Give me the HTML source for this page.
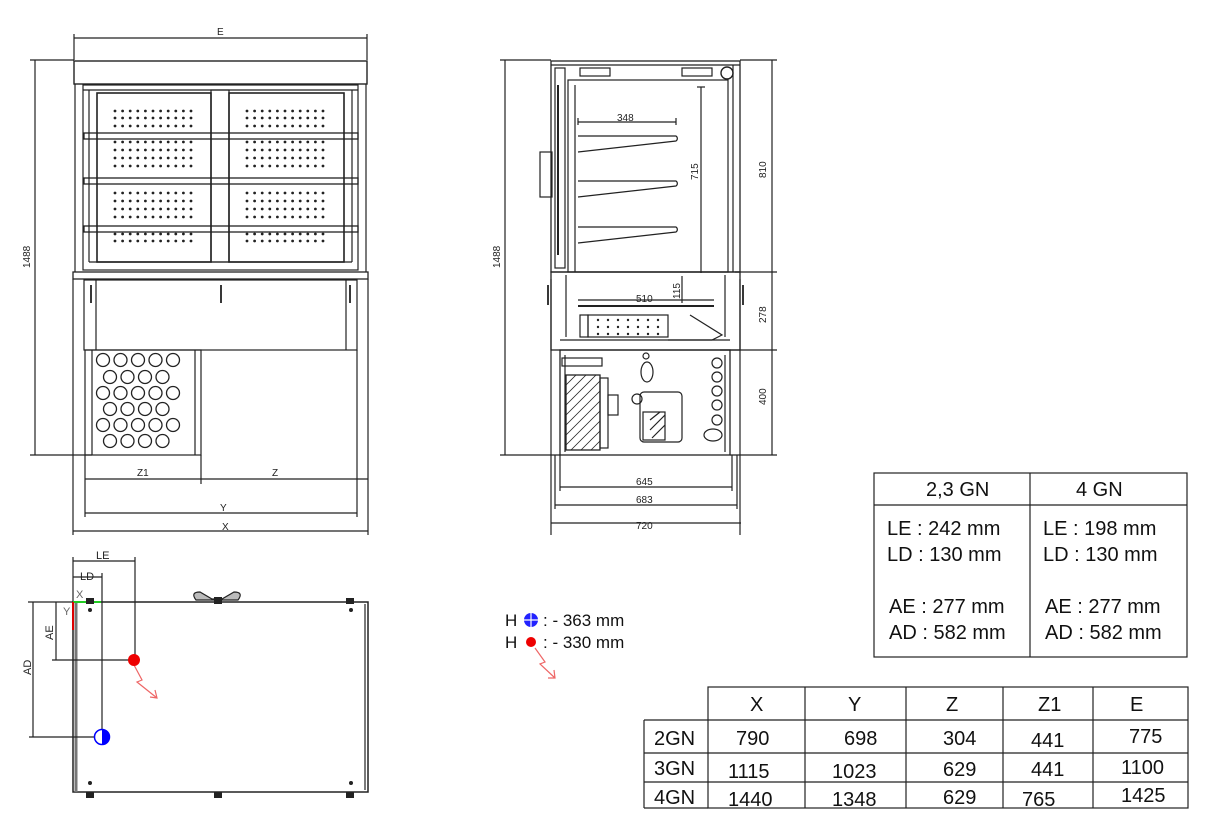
<!DOCTYPE html>
<html><head><meta charset="utf-8"><style>
html,body{margin:0;padding:0;background:#fff;}
svg{display:block;font-family:"Liberation Sans",sans-serif;}
</style></head><body>
<svg id="s" width="1213" height="840" viewBox="0 0 1213 840" xmlns="http://www.w3.org/2000/svg">
<g stroke="#222" stroke-width="1.2" fill="none">
<!-- FRONT VIEW -->
<line x1="74" y1="38" x2="367" y2="38"/><line x1="74" y1="34" x2="74" y2="60"/><line x1="367" y1="34" x2="367" y2="60"/>
<line x1="35" y1="60" x2="35" y2="455"/><line x1="30" y1="60" x2="74" y2="60"/><line x1="30" y1="455" x2="92" y2="455"/>
<rect x="74" y="61" width="293" height="23" stroke-width="1.4"/>
<line x1="75" y1="84" x2="75" y2="272"/><line x1="366" y1="84" x2="366" y2="272"/>
<rect x="83" y="85" width="275" height="185"/>
<line x1="83" y1="90" x2="358" y2="90"/>
<rect x="97" y="93" width="114" height="169" stroke-width="1.6"/>
<rect x="229" y="93" width="115" height="169" stroke-width="1.6"/>
<rect x="211" y="90" width="18" height="172"/>
<line x1="89" y1="90" x2="89" y2="262"/><line x1="352" y1="90" x2="352" y2="262"/>
<rect x="84" y="133" width="274" height="6" stroke-width="1.3"/>
<rect x="84" y="178" width="274" height="6" stroke-width="1.3"/>
<rect x="84" y="226" width="274" height="6" stroke-width="1.3"/>
<line x1="89" y1="262" x2="352" y2="262"/>
<rect x="73" y="272" width="295" height="7" stroke-width="1.3"/>
<line x1="73" y1="279" x2="73" y2="535"/><line x1="368" y1="279" x2="368" y2="535"/>
<rect x="84" y="280" width="273" height="70"/>
<line x1="96" y1="280" x2="96" y2="350"/><line x1="346" y1="280" x2="346" y2="350"/>
<line x1="357" y1="350" x2="357" y2="517"/>
<rect x="85" y="350" width="116" height="105"/>
<line x1="92" y1="350" x2="92" y2="455"/><line x1="195" y1="350" x2="195" y2="455"/>
<line x1="85" y1="455" x2="85" y2="517"/>
<line x1="201" y1="455" x2="201" y2="484"/>
<line x1="85" y1="479" x2="368" y2="479"/>
<line x1="85" y1="513" x2="357" y2="513"/>
<line x1="73" y1="531" x2="368" y2="531"/>
<g stroke-width="1.8"><line x1="91" y1="285" x2="91" y2="303"/><line x1="221" y1="285" x2="221" y2="303"/><line x1="350" y1="285" x2="350" y2="303"/></g>
<g id="grille"></g>
<!-- SIDE VIEW -->
<line x1="505" y1="60" x2="505" y2="455"/><line x1="500" y1="60" x2="551" y2="60"/><line x1="500" y1="455" x2="560" y2="455"/>
<line x1="772" y1="60" x2="772" y2="455"/><line x1="740" y1="60" x2="777" y2="60"/><line x1="735" y1="272" x2="777" y2="272"/><line x1="720" y1="350" x2="777" y2="350"/><line x1="730" y1="455" x2="777" y2="455"/>
<rect x="551" y="61" width="189" height="211" stroke-width="1.3"/>
<line x1="551" y1="65" x2="740" y2="65"/>
<rect x="555" y="68" width="10" height="200"/>
<line x1="558" y1="85" x2="558" y2="255" stroke-width="2"/>
<rect x="540" y="152" width="12" height="45"/>
<rect x="568" y="80" width="160" height="192"/>
<line x1="575" y1="85" x2="575" y2="272"/>
<line x1="733" y1="65" x2="733" y2="272"/>
<rect x="580" y="68" width="30" height="8"/><rect x="682" y="68" width="30" height="8"/>
<circle cx="727" cy="73" r="6" stroke-width="1.4"/>
<line x1="578" y1="122" x2="676" y2="122"/><line x1="578" y1="118" x2="578" y2="125"/><line x1="676" y1="118" x2="676" y2="125"/>
<path d="M578 136 H676 a3 3 0 0 1 0 5 L578 152"/>
<path d="M578 181 H676 a3 3 0 0 1 0 5 L578 197"/>
<path d="M578 227 H676 a3 3 0 0 1 0 5 L578 243"/>
<line x1="701" y1="87" x2="701" y2="273"/><line x1="697" y1="87" x2="705" y2="87"/>
<line x1="682" y1="276" x2="682" y2="303"/>
<rect x="551" y="272" width="189" height="78" stroke-width="1.3"/>
<line x1="566" y1="275" x2="566" y2="337"/><line x1="725" y1="275" x2="725" y2="337"/>
<line x1="578" y1="306" x2="714" y2="306" stroke-width="2"/>
<line x1="578" y1="300" x2="714" y2="300"/>
<rect x="588" y="315" width="80" height="22"/>
<rect x="580" y="315" width="8" height="22"/>
<path d="M690 315 L722 335 L712 340 L668 340"/>
<line x1="560" y1="340" x2="730" y2="340"/>
<line x1="551" y1="279" x2="551" y2="535"/><line x1="740" y1="279" x2="740" y2="535"/>
<rect x="560" y="350" width="170" height="105" stroke-width="1.3"/>
<line x1="565" y1="355" x2="565" y2="452"/><line x1="725" y1="355" x2="725" y2="452"/>
<rect x="562" y="358" width="40" height="8"/>
<rect x="566" y="375" width="34" height="75" stroke-width="1.3"/>
<g stroke-width="0.8"><path d="M566 385 L576 375 M566 395 L586 375 M566 405 L596 375 M566 415 L600 381 M566 425 L600 391 M566 435 L600 401 M566 445 L600 411 M571 450 L600 421 M581 450 L600 431 M591 450 L600 441"/></g>
<rect x="600" y="378" width="8" height="70"/><rect x="608" y="395" width="10" height="20"/>
<rect x="640" y="392" width="42" height="50" rx="4"/>
<rect x="643" y="412" width="22" height="28"/><path d="M650 420 L660 412 M650 430 L665 415 M652 438 L665 425"/>
<circle cx="637" cy="399" r="5"/>
<ellipse cx="647" cy="372" rx="6" ry="10"/><circle cx="646" cy="356" r="3"/>
<circle cx="717" cy="363" r="5"/><circle cx="717" cy="377" r="5"/><circle cx="717" cy="391" r="5"/><circle cx="717" cy="405" r="5"/><circle cx="717" cy="420" r="5"/><ellipse cx="713" cy="435" rx="9" ry="6"/>
<line x1="560" y1="487" x2="732" y2="487"/><line x1="560" y1="455" x2="560" y2="491"/><line x1="732" y1="455" x2="732" y2="491"/>
<line x1="555" y1="505" x2="737" y2="505"/><line x1="555" y1="455" x2="555" y2="509"/><line x1="737" y1="455" x2="737" y2="509"/>
<line x1="551" y1="523" x2="741" y2="523"/>
<g stroke-width="1.8"><line x1="548" y1="285" x2="548" y2="305"/><line x1="743" y1="285" x2="743" y2="305"/></g>
<!-- PLAN VIEW -->
<rect x="73" y="602" width="295" height="190" stroke-width="1.5"/>
<line x1="76" y1="602" x2="76" y2="792" stroke="#777" stroke-width="3"/>
<line x1="365" y1="604" x2="365" y2="790"/>
<line x1="28" y1="602" x2="73" y2="602"/>
<line x1="73" y1="557" x2="73" y2="602"/><line x1="135" y1="557" x2="135" y2="660"/><line x1="102" y1="573" x2="102" y2="737"/>
<line x1="73" y1="561" x2="135" y2="561"/><line x1="73" y1="577" x2="102" y2="577"/>
<line x1="56" y1="602" x2="56" y2="660"/><line x1="52" y1="660" x2="134" y2="660"/>
<line x1="33" y1="602" x2="33" y2="737"/><line x1="29" y1="737" x2="102" y2="737"/>
<path d="M196 600 q-6 -8 4 -8 l12 7 h10 l12 -7 q10 0 4 8 z" fill="#bbb"/>
<line x1="73" y1="602" x2="101" y2="602" stroke="#2c2" stroke-width="2"/>
<line x1="73" y1="602" x2="73" y2="630" stroke="#d00" stroke-width="2"/>
<path d="M134 665 L142 680 L137 682 L157 698 M150 697 L157 698 L155 690" stroke="#e66"/>
<path d="M535 648 L545 662 L540 664 L555 678 M548 678 L555 678 L554 670" stroke="#e66"/>
<!-- TABLES -->
<rect x="874" y="473" width="313" height="184"/><line x1="874" y1="505" x2="1187" y2="505"/><line x1="1030" y1="473" x2="1030" y2="657"/>
<rect x="708" y="687" width="480" height="121"/>
<line x1="644" y1="720" x2="1188" y2="720"/><line x1="644" y1="753" x2="1188" y2="753"/><line x1="644" y1="782" x2="1188" y2="782"/>
<line x1="644" y1="720" x2="644" y2="808"/><line x1="644" y1="808" x2="708" y2="808"/>
<line x1="805" y1="687" x2="805" y2="808"/><line x1="906" y1="687" x2="906" y2="808"/><line x1="1003" y1="687" x2="1003" y2="808"/><line x1="1093" y1="687" x2="1093" y2="808"/>
</g>
<g id="dots" fill="#222"></g>
<g fill="#222">
<rect x="86" y="598" width="8" height="6"/><rect x="214" y="597" width="8" height="7"/><rect x="346" y="598" width="8" height="6"/>
<rect x="86" y="792" width="8" height="6"/><rect x="214" y="792" width="8" height="6"/><rect x="346" y="792" width="8" height="6"/>
<circle cx="90" cy="610" r="2"/><circle cx="351" cy="610" r="2"/><circle cx="90" cy="783" r="2"/><circle cx="351" cy="783" r="2"/>
<circle cx="134" cy="660" r="6" fill="#e00"/>
<circle cx="102" cy="737" r="7.5" fill="#fff" stroke="#00f" stroke-width="1.5"/>
<path d="M102 729.5 A7.5 7.5 0 0 1 102 744.5 Z" fill="#00f"/>
<circle cx="531" cy="620" r="7" fill="#22f"/><path d="M524 620 H538 M531 613 V627" stroke="#fff" stroke-width="1.2"/>
<circle cx="531" cy="642" r="5" fill="#e00"/>
</g>
<g fill="#222" font-size="10">
<text x="217" y="35">E</text>
<text x="30" y="268" transform="rotate(-90 30 268)">1488</text>
<text x="137" y="476">Z1</text><text x="272" y="476">Z</text>
<text x="220" y="511">Y</text><text x="222" y="530">X</text>
<text x="500" y="268" transform="rotate(-90 500 268)">1488</text>
<text x="617" y="121">348</text>
<text x="698" y="180" transform="rotate(-90 698 180)">715</text>
<text x="766" y="178" transform="rotate(-90 766 178)">810</text>
<text x="636" y="302">510</text>
<text x="680" y="299" transform="rotate(-90 680 299)">115</text>
<text x="766" y="323" transform="rotate(-90 766 323)">278</text>
<text x="766" y="405" transform="rotate(-90 766 405)">400</text>
<text x="636" y="485">645</text><text x="636" y="503">683</text><text x="636" y="529">720</text>
<text x="96" y="559" font-size="11">LE</text><text x="80" y="580" font-size="11">LD</text>
<text x="76" y="598" fill="#666" font-size="11">X</text><text x="63" y="615" fill="#666" font-size="11">Y</text>
<text x="53" y="640" transform="rotate(-90 53 640)" font-size="11">AE</text>
<text x="31" y="675" transform="rotate(-90 31 675)" font-size="11">AD</text>
</g>
<g fill="#111" font-size="17">
<text x="505" y="626">H</text><text x="543" y="626">: - 363 mm</text>
<text x="505" y="648">H</text><text x="543" y="648">: - 330 mm</text>
</g>
<g fill="#111" font-size="20">
<text x="926" y="496">2,3 GN</text><text x="1076" y="496">4 GN</text>
<text x="887" y="535">LE : 242 mm</text><text x="887" y="561">LD : 130 mm</text>
<text x="889" y="613">AE : 277 mm</text><text x="889" y="639">AD : 582 mm</text>
<text x="1043" y="535">LE : 198 mm</text><text x="1043" y="561">LD : 130 mm</text>
<text x="1045" y="613">AE :  277 mm</text><text x="1045" y="639">AD :  582 mm</text>
<text x="750" y="711">X</text><text x="848" y="711">Y</text><text x="946" y="711">Z</text><text x="1038" y="711">Z1</text><text x="1130" y="711">E</text>
<text x="654" y="745">2GN</text><text x="736" y="745">790</text><text x="844" y="745">698</text><text x="943" y="745">304</text><text x="1031" y="747">441</text><text x="1129" y="743">775</text>
<text x="654" y="775">3GN</text><text x="728" y="778">1115</text><text x="832" y="778">1023</text><text x="943" y="776">629</text><text x="1031" y="776">441</text><text x="1121" y="774">1100</text>
<text x="654" y="804">4GN</text><text x="728" y="806">1440</text><text x="832" y="806">1348</text><text x="943" y="804">629</text><text x="1022" y="806">765</text><text x="1121" y="802">1425</text>
</g>
</svg>
<script>
var NS="http://www.w3.org/2000/svg";
var d=document.getElementById("dots");
var rows=[111,118,126,142,150,158,166,193,201,209,217,234,241];
[115,247].forEach(function(x0){rows.forEach(function(y){for(var i=0;i<11;i++){var c=document.createElementNS(NS,"circle");c.setAttribute("cx",x0+i*7.6);c.setAttribute("cy",y);c.setAttribute("r",1.4);d.appendChild(c);}});});
for(var r=0;r<3;r++)for(var i=0;i<7;i++){var c=document.createElementNS(NS,"circle");c.setAttribute("cx",598+i*10);c.setAttribute("cy",320+r*7);c.setAttribute("r",1.2);d.appendChild(c);}
var g=document.getElementById("grille");
var gr=[[5,103,360],[4,110,377],[5,103,393],[4,110,409],[5,103,425],[4,110,441]];
gr.forEach(function(a){for(var i=0;i<a[0];i++){var c=document.createElementNS(NS,"circle");c.setAttribute("cx",a[1]+i*17.5);c.setAttribute("cy",a[2]);c.setAttribute("r",6.5);c.setAttribute("stroke-width","1.3");g.appendChild(c);}});
</script>
</body></html>
